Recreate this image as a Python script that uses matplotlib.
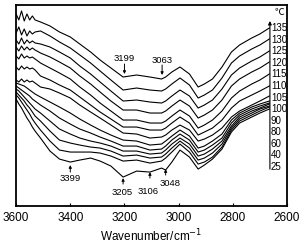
import numpy as np
import matplotlib
matplotlib.use('Agg')
import matplotlib.pyplot as plt

plt.rcParams['font.family'] = 'sans-serif'
plt.rcParams['font.sans-serif'] = ['Liberation Sans', 'DejaVu Sans']

# --- data: wavenumber grid and spectra (a.u., stacked) ---
wavenumber = [3600, 3590, 3580, 3570, 3560, 3550, 3540, 3530, 3510, 3475, 3440,
              3400, 3365, 3325, 3290, 3250, 3205, 3155, 3106, 3063, 3048, 3025,
              2995, 2960, 2928, 2905, 2875, 2840, 2805, 2775, 2730, 2700, 2665]

temps = ['135', '130', '125', '120', '115', '110', '105',
         '100', '90', '80', '60', '40', '25']

t135 = [192, 186, 195, 185, 192, 186, 190, 186, 184, 180, 174, 169, 162, 154, 146, 138, 129,
        131, 129, 127, 129, 134, 139, 132, 119, 122, 127, 139, 154, 161, 168, 172, 178]
t130 = [173, 179, 171, 177, 170, 175, 172, 174, 175, 170, 164, 158, 151, 143, 135, 126, 116,
        118, 116, 115, 117, 122, 128, 121, 108, 111, 116, 128, 143, 150, 157, 161, 167]
t125 = [166, 162, 168, 162, 166, 163, 165, 163, 162, 159, 154, 148, 140, 132, 124, 115, 105,
        106, 104, 103, 105, 110, 116, 110, 98, 101, 106, 117, 131, 138, 145, 149, 155]
t120 = [159, 155, 160, 156, 159, 156, 158, 156, 153, 149, 144, 138, 130, 122, 114, 105, 96,
        96, 93, 93, 95, 100, 106, 100, 88, 91, 96, 106, 120, 127, 134, 138, 144]
t115 = [150, 147, 152, 148, 150, 148, 149, 147, 143, 138, 133, 127, 119, 111, 103, 95, 86,
        86, 83, 83, 85, 90, 96, 90, 78, 81, 86, 95, 108, 115, 122, 126, 132]
t110 = [139, 136, 140, 137, 139, 137, 138, 136, 130, 126, 121, 116, 109, 101, 94, 87, 79,
        79, 76, 76, 78, 83, 89, 83, 71, 74, 78, 86, 98, 105, 111, 115, 120]
t105 = [126, 124, 127, 124, 126, 124, 125, 123, 119, 117, 113, 108, 101, 94, 88, 81, 73,
        72, 68, 69, 71, 76, 81, 76, 65, 67, 71, 78, 89, 95, 101, 105, 110]
t100 = [123, 122, 121, 120, 118, 116, 114, 112, 109, 104, 99, 93, 87, 81, 76, 71, 66,
        65, 61, 62, 65, 70, 76, 70, 58, 60, 65, 72, 86, 93, 99, 102, 105]
t90 = [120, 118, 116, 114, 112, 110, 107, 105, 101, 95, 88, 82, 77, 73, 69, 65, 60,
       60, 56, 57, 60, 66, 72, 66, 54, 56, 61, 68, 83, 91, 97, 100, 103]
t80 = [117, 115, 112, 109, 106, 103, 100, 97, 93, 85, 77, 72, 68, 65, 63, 60, 55,
       55, 52, 53, 56, 62, 68, 62, 50, 52, 57, 65, 80, 89, 95, 98, 102]
t60 = [114, 111, 108, 105, 101, 98, 94, 90, 85, 75, 66, 63, 61, 59, 58, 55, 50,
       51, 48, 49, 52, 58, 65, 58, 46, 48, 53, 62, 78, 87, 93, 97, 100]
t40 = [111, 108, 104, 100, 96, 92, 87, 83, 76, 65, 56, 54, 54, 54, 53, 50, 45,
       46, 43, 45, 48, 54, 62, 54, 42, 44, 49, 59, 76, 85, 91, 95, 99]
t25 = [107, 102, 98, 93, 88, 84, 79, 75, 68, 55, 47, 44, 46, 48, 45, 40, 29,
       35, 34, 38, 36, 44, 56, 49, 37, 41, 47, 57, 74, 83, 89, 93, 97]

spectra = [t135, t130, t125, t120, t115, t110, t105, t100, t90, t80, t60, t40, t25]

# band marks: label, band position, arrow head, arrow tail, text x, text y
bands = [('3199', 3200, 132, 142, 3200, 147),
         ('3063', 3061, 131, 141, 3061, 145),
         ('3399', 3400, 41, 34, 3400, 28),
         ('3205', 3205, 28, 22, 3207, 14),
         ('3106', 3106, 34, 28, 3112, 15),
         ('3048', 3048, 37, 31, 3030, 23)]

fig, ax = plt.subplots(figsize=(3.04, 2.48), dpi=100)
fig.subplots_adjust(left=0.053, right=0.944, bottom=0.169, top=0.980)

for s in spectra:
    ax.plot(wavenumber, s, color='black', lw=0.8)

ax.set_xlim(3600, 2600)
ax.set_ylim(0, 201)
ax.set_xticks([3600, 3400, 3200, 3000, 2800, 2600])
ax.set_yticks([])
ax.tick_params(axis='x', direction='in', length=2, labelsize=8.5, pad=4)
for sp in ax.spines.values():
    sp.set_linewidth(1.3)
ax.set_xlabel('Wavenumber/cm$^{-1}$', fontsize=8.5, labelpad=3)

for txt, pos, head, tail, tx, ty in bands:
    ax.annotate('', xy=(pos, head), xytext=(pos, tail),
                arrowprops=dict(arrowstyle='-|>', lw=0.7, color='black',
                                mutation_scale=4, shrinkA=0, shrinkB=0))
    ax.text(tx, ty, txt, ha='center', va='center', fontsize=6.8)

# temperature scale with arrow
ax.annotate('', xy=(2663, 185), xytext=(2663, 37),
            arrowprops=dict(arrowstyle='-|>', lw=0.8, color='black',
                            mutation_scale=5, shrinkA=0, shrinkB=0))
for t, yv in zip(temps, np.linspace(178, 39, len(temps))):
    ax.text(2659, yv, t, ha='left', va='center', fontsize=7)
ax.text(2628, 194, '\u2103', ha='center', va='center', fontsize=7,
        family=['Noto Sans CJK SC', 'DejaVu Sans'])

fig.savefig('out.png', dpi=100)
